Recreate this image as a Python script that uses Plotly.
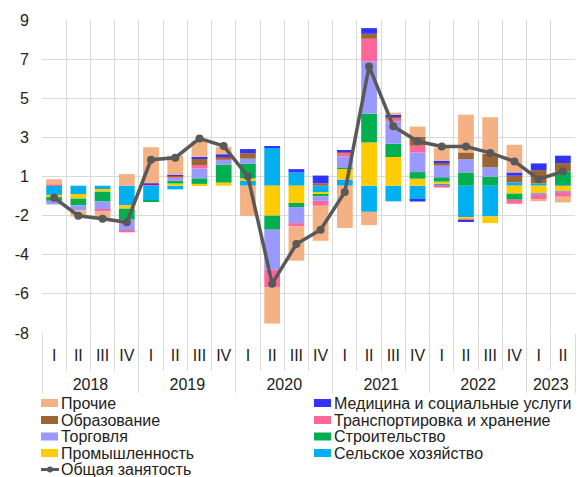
import numpy as np
import plotly.graph_objects as go

# quarters 2018 I .. 2023 II
YEARS = ["2018"] * 4 + ["2019"] * 4 + ["2020"] * 4 + ["2021"] * 4 + ["2022"] * 4 + ["2023"] * 2
QUARTERS = ["I", "II", "III", "IV"] * 5 + ["I", "II"]

# contributions by sector, p.p.
AGRICULTURE = [-0.50, -0.45, -0.18, -1.07, -0.80, -0.20, 0.00, 0.00, 0.30, 2.05, 0.72, -0.38,
               0.33, -1.42, -0.85, -0.76, 0.10, -1.70, -1.67, 0.18, 0.12, 0.05]
INDUSTRY = [-0.12, -0.25, -0.15, -0.18, 0.00, 0.12, 0.10, 0.17, 0.10, -1.63, -0.94, -0.10,
            0.58, 2.35, 1.56, 0.38, 0.12, -0.15, -0.36, -0.43, -0.45, -0.33]
CONSTRUCTION = [-0.20, -0.37, -0.53, -0.60, -0.05, 0.15, 0.30, 0.98, 0.80, -0.76, -0.22, -0.10,
                0.05, 1.56, 0.72, 0.36, 0.24, 0.72, 0.49, -0.33, 0.00, 0.72]
TRADE = [-0.20, -0.27, -0.45, -0.60, 0.00, 0.18, 0.54, 0.25, 0.27, -2.17, -0.87, -0.24,
         0.63, 2.84, 1.21, 1.07, 0.63, 0.73, 0.51, 0.00, -0.05, -0.04]
TRANSPORT = [0.05, 0.00, -0.09, -0.08, 0.07, 0.06, 0.18, 0.03, 0.00, -0.94, -0.18, -0.27,
             0.22, 1.23, 0.15, 0.36, -0.10, -0.05, 0.00, -0.22, -0.22, -0.23]
EDUCATION = [0.00, 0.00, 0.00, 0.00, 0.00, 0.03, 0.37, 0.18, 0.30, 0.00, 0.00, 0.13,
             0.03, 0.27, 0.12, 0.50, 0.18, 0.36, 0.73, 0.36, 0.73, 0.46]
HEALTH = [0.00, 0.00, 0.00, 0.00, 0.06, 0.04, 0.08, 0.10, 0.22, 0.08, 0.18, 0.42,
          0.10, 0.31, 0.09, -0.10, 0.09, -0.05, 0.00, 0.18, 0.36, 0.40]
OTHER = [0.30, -0.34, -0.35, 0.63, 1.96, 1.05, 0.87, 0.40, -1.65, -1.99, -1.86, -1.90,
         -2.30, -0.72, 0.12, 0.54, 0.70, 2.05, 1.99, 1.50, -0.12, -0.31]
TOTAL = [-0.65, -1.63, -1.80, -1.99, 1.41, 1.52, 2.57, 2.15, 0.50, -5.32, -3.17, -2.39,
         -0.34, 6.48, 3.23, 2.41, 2.13, 2.13, 1.78, 1.32, 0.35, 0.78]

Y_TICK_LABELS = ["-8", "-6", "-4", "-2", "1", "3", "5", "7", "9"]

# stacking order (bottom to top)
SERIES = [
    ("Сельское хозяйство", AGRICULTURE, "#00B0F0"),
    ("Промышленность", INDUSTRY, "#FFCC00"),
    ("Строительство", CONSTRUCTION, "#00B050"),
    ("Торговля", TRADE, "#9999FF"),
    ("Транспортировка и хранение", TRANSPORT, "#FF6699"),
    ("Образование", EDUCATION, "#9C6634"),
    ("Медицина и социальные услуги", HEALTH, "#3333FF"),
    ("Прочие", OTHER, "#F4B183"),
]
LINE_NAME, LINE_COLOR = "Общая занятость", "#595959"

W, H = 581, 477
M = dict(l=42, r=6, t=20, b=144)
FONT = "Liberation Sans, Arial, sans-serif"
GRID = "#D9D9D9"


def px(x):
    return (x - M["l"]) / (W - M["l"] - M["r"])


def py(y):
    return (H - M["b"] - y) / (H - M["t"] - M["b"])


# an empty second line under each quarter pushes the year row further down
x = [YEARS, [q + "<br> " for q in QUARTERS]]
fig = go.Figure()
for name, vals, color in SERIES:
    fig.add_trace(go.Bar(x=x, y=vals, name=name, marker=dict(color=color, line=dict(width=0)),
                         showlegend=False))
fig.add_trace(go.Scatter(x=x, y=TOTAL, name=LINE_NAME, mode="lines+markers",
                         line=dict(color=LINE_COLOR, width=3.5),
                         marker=dict(color=LINE_COLOR, size=8), showlegend=False))

# hand-made legend, two columns like the original
colors = {n: c for n, _, c in SERIES}
legend_cols = [
    (41, ["Прочие", "Образование", "Торговля", "Промышленность", LINE_NAME]),
    (314, ["Медицина и социальные услуги", "Транспортировка и хранение", "Строительство",
           "Сельское хозяйство"]),
]
rows_y = [403, 420, 436.5, 453, 469.5]
shapes, annotations = [], []
for x0, names in legend_cols:
    for name, yc in zip(names, rows_y):
        if name == LINE_NAME:
            shapes.append(dict(type="line", xref="paper", yref="paper", x0=px(x0), x1=px(x0 + 18),
                               y0=py(yc), y1=py(yc), line=dict(color=LINE_COLOR, width=3)))
            shapes.append(dict(type="circle", xref="paper", yref="paper", x0=px(x0 + 6), x1=px(x0 + 12),
                               y0=py(yc + 3), y1=py(yc - 3), fillcolor=LINE_COLOR,
                               line=dict(color=LINE_COLOR, width=0)))
        else:
            shapes.append(dict(type="rect", xref="paper", yref="paper", x0=px(x0), x1=px(x0 + 17),
                               y0=py(yc + 4), y1=py(yc - 4), fillcolor=colors[name],
                               line=dict(width=0)))
        annotations.append(dict(text=name, xref="paper", yref="paper", x=px(x0 + 18), y=py(yc),
                                xanchor="left", yanchor="middle", showarrow=False,
                                font=dict(size=16, color="#222222", family=FONT)))

fig.update_layout(
    barmode="relative",
    bargap=0.35,
    width=W,
    height=H,
    margin=M,
    template="none",
    paper_bgcolor="white",
    plot_bgcolor="white",
    font=dict(family=FONT, size=15, color="#222222"),
    showlegend=False,
    shapes=shapes,
    annotations=annotations,
)
fig.update_xaxes(
    type="multicategory",
    range=[-0.5, len(QUARTERS) - 0.5],
    tickson="boundaries",
    tickangle=0,
    showgrid=True,
    gridcolor=GRID,
    gridwidth=1,
    ticks="outside",
    ticklen=36,
    tickcolor=GRID,
    ticklabelstandoff=11,
    showdividers=True,
    dividercolor=GRID,
    dividerwidth=1,
    tickfont=dict(size=16, color="#222222"),
    showline=False,
    zeroline=False,
    automargin=False,
)
fig.update_yaxes(
    range=[-8, 9],
    tickmode="array",
    tickvals=np.linspace(-8, 9, len(Y_TICK_LABELS)),
    ticktext=Y_TICK_LABELS,
    showgrid=True,
    gridcolor=GRID,
    gridwidth=1,
    zeroline=False,
    showline=False,
    ticks="",
    ticklabelstandoff=12,
    tickfont=dict(size=16, color="#222222"),
    automargin=False,
)

# the page's default body margin would shift the figure by 8px
fig.write_html("out.html", config={"displayModeBar": False},
               post_script="document.body.style.margin='0';")
